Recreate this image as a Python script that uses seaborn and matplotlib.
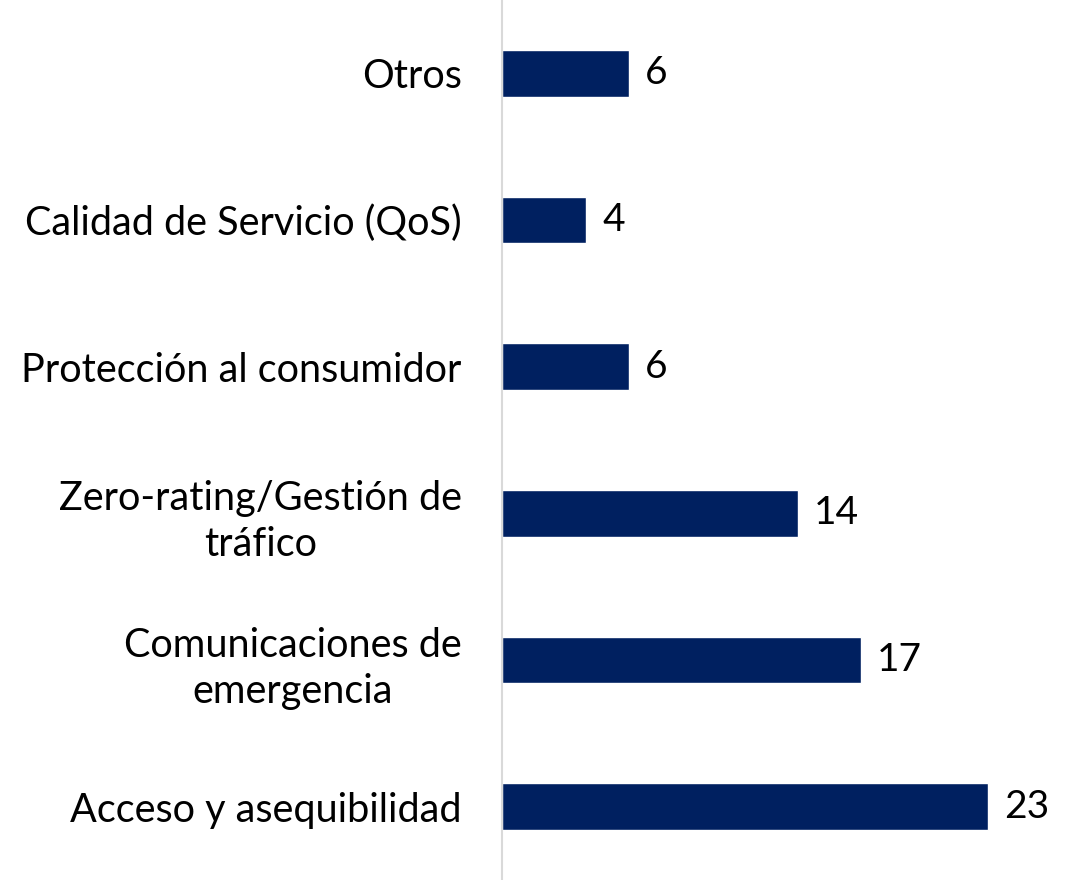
import pandas as pd
import matplotlib.pyplot as plt
import seaborn as sns

categories = ["Otros", "Calidad de Servicio (QoS)", "Protección al consumidor",
              "Zero-rating/Gestión de\ntráfico", "Comunicaciones de\nemergencia",
              "Acceso y asequibilidad"]
values = [6, 4, 6, 14, 17, 23]

df = pd.DataFrame({"tema": categories, "n": values})

sns.set_style("white")
plt.rcParams["font.family"] = ["Lato", "DejaVu Sans"]
plt.rcParams["text.color"] = "black"
plt.rcParams["ytick.color"] = "black"

fig = plt.figure(figsize=(10.66, 8.8), dpi=100)
ax = fig.add_axes([502 / 1066, 0, 1 - 502 / 1066, 1])
sns.barplot(data=df, x="n", y="tema", color="#002060", width=0.32,
            saturation=1, ax=ax)

ax.set_xlim(0, 26.7)
ax.set_ylim(5.5, -0.5)
ax.set_xlabel("")
ax.set_ylabel("")
ax.set_xticks([])
for s in ["top", "right", "bottom"]:
    ax.spines[s].set_visible(False)
ax.spines["left"].set_color("#d9d9d9")
ax.spines["left"].set_linewidth(1.5)
ax.tick_params(axis="y", length=0, pad=29, labelsize=28.5, labelcolor="black")
for lbl in ax.get_yticklabels():
    lbl.set_multialignment("center")
    lbl.set_linespacing(1.3)

for i, v in enumerate(values):
    ax.text(v + 0.75, i, str(v), va="center", ha="left", fontsize=28,
            color="black")

fig.savefig("out.png", dpi=100)
